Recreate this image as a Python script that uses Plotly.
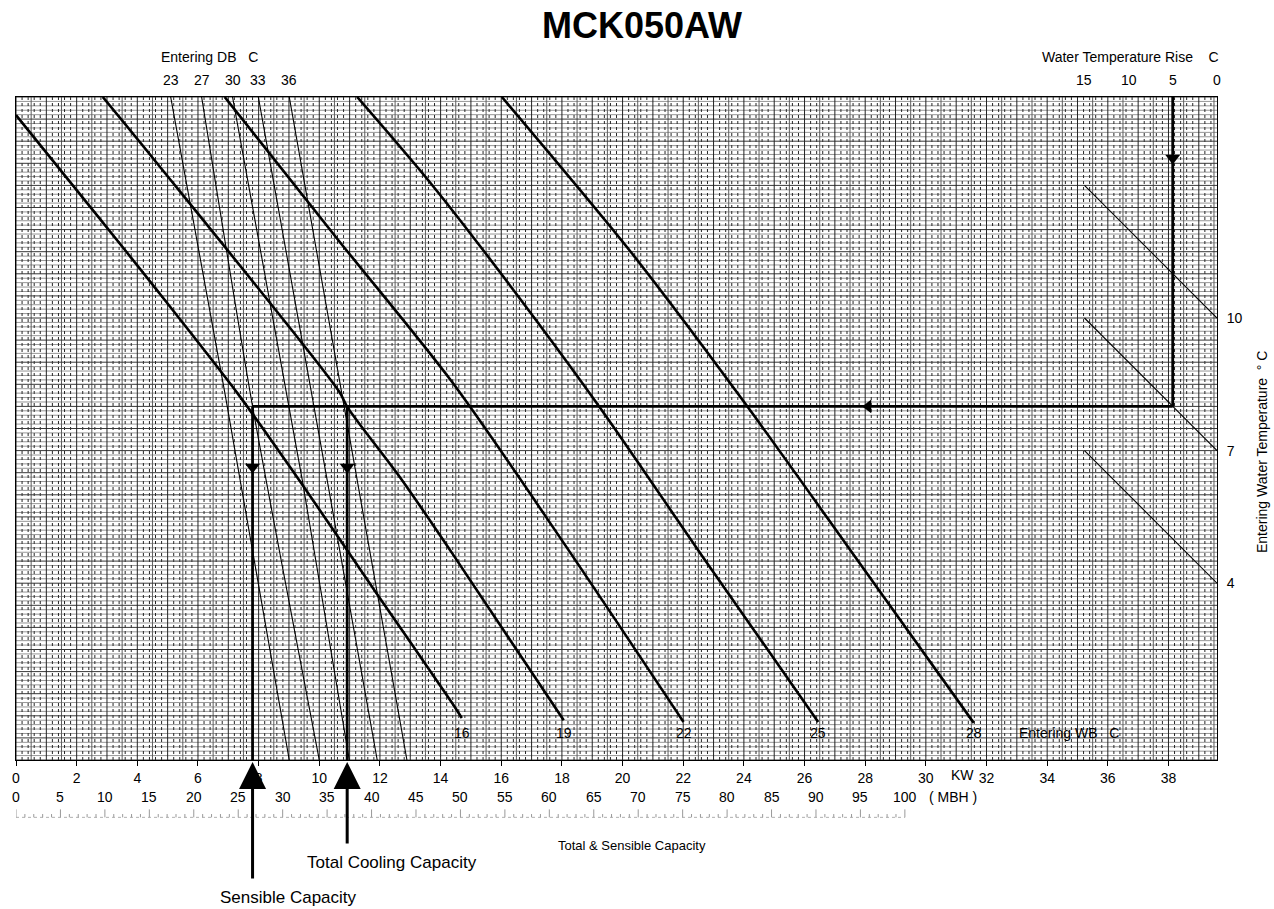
import plotly.graph_objects as go
import numpy as np

# ---------------- data ----------------
TITLE = "MCK050AW"
X_MAX = 39.6          # KW at right frame
Y_MAX = 15.0          # chart units (right axis = entering water temp)

# Entering WB curves (x = KW, y = chart units)
wb_labels = ["16", "19", "22", "25", "28"]
wb16_x = [0.0, 2.70, 4.51, 7.30, 9.34, 11.97, 14.38, 14.70]
wb16_y = [14.59, 12.30, 10.75, 8.30, 6.33, 3.69, 1.29, 0.95]
wb19_x = [2.86, 4.51, 10.66, 10.92, 12.73, 14.38, 18.06]
wb19_y = [15.0, 13.62, 8.33, 7.99, 6.33, 4.68, 0.90]
wb22_x = [6.88, 10.63, 14.38, 17.99, 22.01]
wb22_y = [15.0, 11.76, 8.55, 4.98, 0.86]
wb25_x = [11.25, 13.72, 16.45, 19.31, 22.60, 26.45]
wb25_y = [15.0, 13.01, 10.59, 7.92, 4.64, 0.86]
wb28_x = [16.02, 20.30, 24.08, 27.86, 31.58]
wb28_y = [15.0, 11.47, 8.03, 4.41, 0.84]
wb_x = [wb16_x, wb19_x, wb22_x, wb25_x, wb28_x]
wb_y = [wb16_y, wb19_y, wb22_y, wb25_y, wb28_y]

# Entering DB lines
db_labels = ["23", "27", "30", "33", "36"]
db23_x = [5.10, 6.88, 9.01]
db27_x = [6.12, 7.80, 10.00]
db30_x = [7.14, 9.44, 10.99]
db33_x = [7.99, 10.26, 11.91]
db36_x = [9.01, 11.25, 12.89]
db23_y = [15.0, 8.33, 0.0]
db27_y = [15.0, 8.00, 0.0]
db30_y = [15.0, 6.33, 0.0]
db33_y = [15.0, 6.33, 0.0]
db36_y = [15.0, 6.33, 0.0]
db_x = [db23_x, db27_x, db30_x, db33_x, db36_x]
db_y = [db23_y, db27_y, db30_y, db33_y, db36_y]

# Water temperature rise scale (top right) and entering water temp lines
rise_ticks = [15, 10, 5, 0]
rise_kw = [35.23, 36.69, 38.14, 39.60]        # KW position of each rise tick
ewt_ticks = [10, 7, 4]
ewt_start_y = [13.0, 10.0, 7.0]               # at rise 15
ewt_end_y = [10.0, 7.0, 4.0]                  # at rise 0

# Worked example
ex_rise_kw = 38.14
ex_y = 8.0
ex_total_kw = 10.92
ex_sens_kw = 7.80
arrow_rise_y = 13.62
arrow_left_kw = 28.1
arrow_down_y = 6.63

# Bottom scales
kw_ticks = list(range(0, 39, 2))
mbh_ticks = list(range(0, 101, 5))
KW_PER_MBH = 1 / 3.412

FONT = "Liberation Sans, Arial, sans-serif"

W, H = 1274, 909
L, R, T, B = 12, 57, 97, 149

fig = go.Figure()

# ---------------- grid paper ----------------
def vlines(vals):
    xs, ys = [], []
    for v in vals:
        xs += [v, v, None]
        ys += [0, Y_MAX, None]
    return xs, ys

def hlines(vals):
    xs, ys = [], []
    for v in vals:
        xs += [0, X_MAX, None]
        ys += [v, v, None]
    return xs, ys

def is_mult(v, step):
    return abs(v / step - round(v / step)) < 1e-6

xdot = [v for v in np.arange(0, X_MAX, 0.2) if not is_mult(v, 1.0)]
xhalf = [v for v in np.arange(0.5, X_MAX, 1.0)]
xmajor = list(np.arange(0, X_MAX + 1e-9, 1.0))
yminor = [v for v in np.arange(0, Y_MAX, 0.1) if not is_mult(v, 0.5)]
ymajor = list(np.arange(0, Y_MAX + 1e-9, 0.5))

for vals, fn, col, dash, wd in [
    (yminor, hlines, "#969696", "solid", 1),
    (xdot, vlines, "#262626", "dot", 1),
    (xhalf, vlines, "#5e5e5e", "solid", 1),
    (ymajor, hlines, "#383838", "solid", 1),
    (xmajor, vlines, "#222222", "solid", 1),
]:
    gx, gy = fn(vals)
    fig.add_trace(go.Scatter(x=gx, y=gy, mode="lines",
                             line=dict(color=col, width=wd, dash=dash),
                             hoverinfo="skip", showlegend=False))

# ---------------- thin DB lines ----------------
for xs, ys in zip(db_x, db_y):
    fig.add_trace(go.Scatter(x=xs, y=ys, mode="lines",
                             line=dict(color="black", width=1.1, shape="spline", smoothing=0.6),
                             showlegend=False))

# ---------------- thin EWT / rise lines ----------------
for y0, y1 in zip(ewt_start_y, ewt_end_y):
    fig.add_trace(go.Scatter(x=[rise_kw[0], rise_kw[-1]], y=[y0, y1], mode="lines",
                             line=dict(color="black", width=1.1),
                             showlegend=False))

# ---------------- thick WB curves ----------------
for xs, ys in zip(wb_x, wb_y):
    fig.add_trace(go.Scatter(x=xs, y=ys, mode="lines",
                             line=dict(color="black", width=2.6, shape="spline", smoothing=0.8),
                             showlegend=False))

# ---------------- worked example path ----------------
px = [ex_rise_kw, ex_rise_kw, None, ex_rise_kw, ex_sens_kw, None,
      ex_total_kw, ex_total_kw, None, ex_sens_kw, ex_sens_kw]
py = [Y_MAX, ex_y, None, ex_y, ex_y, None, ex_y, 0, None, ex_y, 0]
fig.add_trace(go.Scatter(x=px, y=py, mode="lines",
                         line=dict(color="black", width=2.8),
                         showlegend=False))
fig.add_trace(go.Scatter(x=[ex_rise_kw, ex_total_kw, ex_sens_kw],
                         y=[arrow_rise_y, arrow_down_y, arrow_down_y],
                         mode="markers",
                         marker=dict(symbol="triangle-down", size=13, color="black"),
                         showlegend=False))
fig.add_trace(go.Scatter(x=[arrow_left_kw], y=[ex_y], mode="markers",
                         marker=dict(symbol="triangle-left", size=12, color="black"),
                         showlegend=False))

# ---------------- annotations ----------------
ann = []
for lab, xs, ys in zip(wb_labels, wb_x, wb_y):
    ann.append(dict(x=xs[-1], y=0.61, xref="x", yref="y", text=lab, showarrow=False,
                    font=dict(size=14, color="black")))
ann.append(dict(x=33.0, y=0.61, xref="x", yref="y", text="Entering WB   C",
                xanchor="left", showarrow=False, font=dict(size=14, color="black")))

for lab, xs in zip(db_labels, db_x):
    ann.append(dict(x=xs[0], y=1.0, xref="x", yref="paper", yshift=17, yanchor="middle",
                    text=lab, showarrow=False, font=dict(size=14, color="black")))
ann.append(dict(x=db_x[0][0], y=1.0, xref="x", yref="paper", yshift=40, yanchor="middle",
                xanchor="left", xshift=-12, text="Entering DB   C", showarrow=False,
                font=dict(size=14, color="black")))
for lab, xk in zip(rise_ticks, rise_kw):
    ann.append(dict(x=xk, y=1.0, xref="x", yref="paper", yshift=17, yanchor="middle",
                    text=str(lab), showarrow=False, font=dict(size=14, color="black")))
ann.append(dict(x=rise_kw[-1], y=1.0, xref="x", yref="paper", yshift=40, yanchor="middle",
                xanchor="right", xshift=4, text="Water Temperature Rise    C",
                showarrow=False, font=dict(size=14, color="black")))

for m in mbh_ticks:
    ann.append(dict(x=m * KW_PER_MBH, y=0, xref="x", yref="paper", yshift=-37,
                    yanchor="middle", text=str(m), showarrow=False,
                    font=dict(size=14, color="black")))
ann.append(dict(x=100 * KW_PER_MBH, y=0, xref="x", yref="paper", yshift=-37, xshift=22,
                yanchor="middle", xanchor="left", text="( MBH )", showarrow=False,
                font=dict(size=14, color="black")))
ann.append(dict(x=32, y=0, xref="x", yref="paper", yshift=-15, xshift=-11,
                yanchor="middle", xanchor="right", text="KW", showarrow=False,
                font=dict(size=14, color="black")))
ann.append(dict(x=20.3, y=0, xref="x", yref="paper", yshift=-85, yanchor="middle",
                text="Total & Sensible Capacity", showarrow=False,
                font=dict(size=13, color="black")))

ann.append(dict(x=1.0, y=0.0, xref="paper", yref="paper", xshift=45,
                yshift=(760 - 452), textangle=-90, text="Entering Water Temperature  ° C",
                showarrow=False, font=dict(size=14, color="black"), yanchor="middle",
                xanchor="center"))

ann.append(dict(x=ex_total_kw, y=0, xref="x", yref="paper", yshift=-2, ax=0, ay=83,
                text="", showarrow=True, arrowhead=2, arrowsize=1.8, arrowwidth=3,
                arrowcolor="black"))
ann.append(dict(x=ex_sens_kw, y=0, xref="x", yref="paper", yshift=-2, ax=0, ay=118,
                text="", showarrow=True, arrowhead=2, arrowsize=1.8, arrowwidth=3,
                arrowcolor="black"))
ann.append(dict(x=ex_total_kw, y=0, xref="x", yref="paper", yshift=-102, xshift=45,
                yanchor="middle", text="Total Cooling Capacity", showarrow=False,
                font=dict(size=17, color="black")))
ann.append(dict(x=ex_sens_kw, y=0, xref="x", yref="paper", yshift=-137, xshift=36,
                yanchor="middle", text="Sensible Capacity", showarrow=False,
                font=dict(size=17, color="black")))

shapes = [dict(type="line", xref="x", yref="paper", x0=0, x1=100 * KW_PER_MBH,
               y0=-0.0865, y1=-0.0865, line=dict(color="#b0b0b0", width=1, dash="dot"))]
for m in range(0, 101):
    h = 0.012 if m % 5 == 0 else 0.005
    shapes.append(dict(type="line", xref="x", yref="paper", x0=m * KW_PER_MBH,
                       x1=m * KW_PER_MBH, y0=-0.0865, y1=-0.0865 + h,
                       line=dict(color="#999999", width=1)))

fig.update_layout(
    width=W, height=H,
    margin=dict(l=L, r=R, t=T, b=B),
    paper_bgcolor="white", plot_bgcolor="white",
    font=dict(family=FONT, size=14, color="black"),
    title=dict(text="<b>" + TITLE + "</b>", x=642 / W, y=1 - 25 / H,
               xanchor="center", yanchor="middle", xref="container", yref="container",
               font=dict(size=36, family=FONT, color="black")),
    annotations=ann, shapes=shapes,
    xaxis=dict(range=[0, X_MAX], tickmode="array", tickvals=kw_ticks,
               ticktext=[str(v) for v in kw_ticks], ticks="outside", ticklen=5,
               tickcolor="black", showgrid=False, zeroline=False, showline=True,
               linecolor="black", linewidth=1, mirror=True,
               tickfont=dict(size=14)),
    yaxis=dict(range=[0, Y_MAX], side="right", tickmode="array", tickvals=ewt_ticks,
               ticktext=[str(v) for v in ewt_ticks], ticks="", showgrid=False,
               zeroline=False, showline=True, linecolor="black", linewidth=1,
               mirror=True, tickfont=dict(size=14), ticklabelstandoff=6),
    showlegend=False,
)

fig.write_html("out.html",
               config={"displayModeBar": False},
               post_script="document.body.style.margin='0';"
                           "document.body.style.overflow='hidden';")
